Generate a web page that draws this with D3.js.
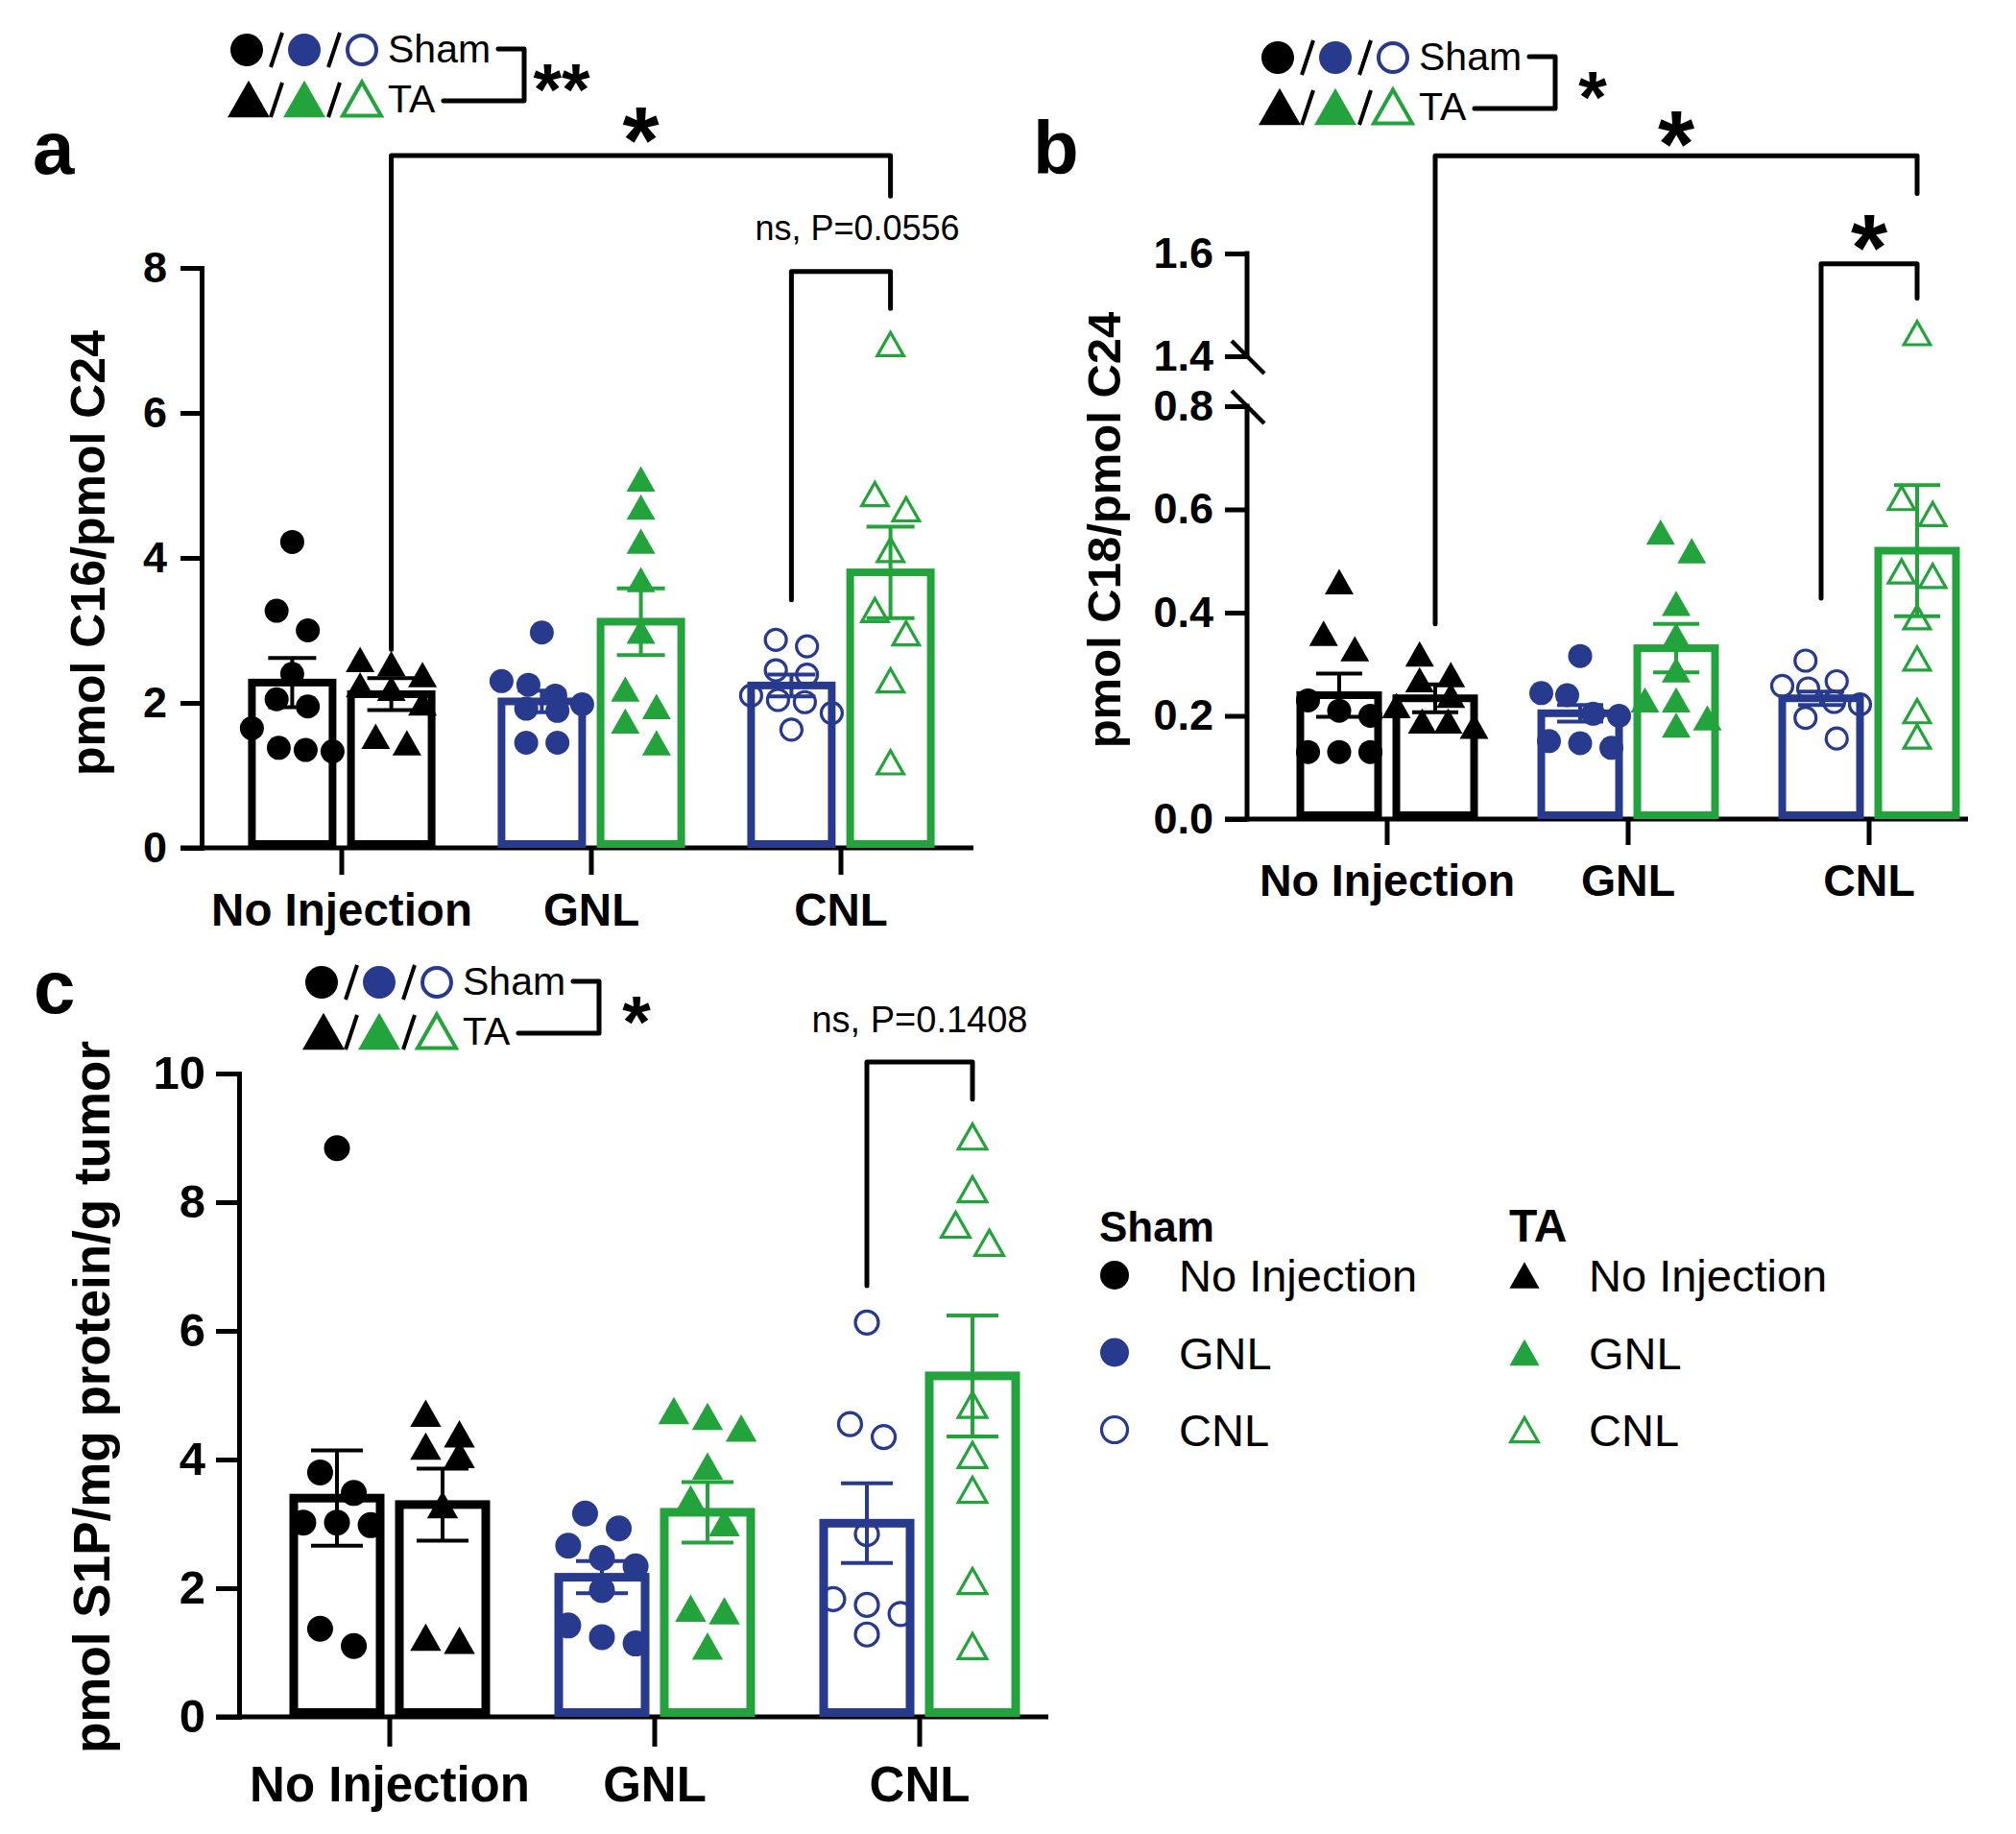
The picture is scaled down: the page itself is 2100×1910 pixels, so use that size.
<!DOCTYPE html>
<html><head><meta charset="utf-8">
<script src="https://cdn.jsdelivr.net/npm/d3@7"></script>
<style>
html,body{margin:0;padding:0;background:#fff;}
svg{display:block;}
text{font-family:"Liberation Sans", Arial, Helvetica, sans-serif;}
</style></head><body>
<svg id="chart" width="2100" height="1910"></svg>
<script>
// ---------------- DATA ----------------
const categories = ["No Injection", "GNL", "CNL"];
const treatments = ["Sham", "TA"];
// group order: NoInj-Sham, NoInj-TA, GNL-Sham, GNL-TA, CNL-Sham, CNL-TA

// Panel a : pmol C16/pmol C24
const aTicks = [0, 2, 4, 6, 8];
const aMeans = [2.28, 2.12, 2.02, 3.12, 2.24, 3.80];
const aSems  = [0.34, 0.22, 0.15, 0.46, 0.15, 0.63];
const aPoints = [
  [4.22, 3.27, 3.0, 2.4, 2.05, 1.95, 1.65, 1.38, 1.35, 1.33],
  [2.6, 2.54, 2.39, 2.25, 2.2, 2.0, 1.54, 1.45],
  [2.97, 2.3, 2.25, 2.1, 1.98, 1.92, 1.89, 1.45, 1.45],
  [5.09, 4.7, 4.23, 3.7, 2.99, 2.19, 1.95, 1.75, 1.45],
  [2.87, 2.78, 2.45, 2.39, 2.1, 2.04, 2.01, 1.86, 1.63],
  [6.95, 4.88, 4.67, 4.11, 3.28, 2.96, 2.31, 1.18]
];

// Panel b : pmol C18/pmol C24 (broken axis 0.8 -> 1.4)
const bTicks = [0, 0.2, 0.4, 0.6, 0.8, 1.4, 1.6];
const bTickLabels = ["0.0", "0.2", "0.4", "0.6", "0.8", "1.4", "1.6"];
const bMeans = [0.240, 0.234, 0.205, 0.331, 0.234, 0.520];
const bSems  = [0.042, 0.027, 0.016, 0.047, 0.013, 0.127];
const bPoints = [
  [0.46, 0.36, 0.33, 0.23, 0.21, 0.20, 0.13, 0.13, 0.13],
  [0.32, 0.28, 0.27, 0.24, 0.22, 0.19, 0.19, 0.18],
  [0.316, 0.244, 0.24, 0.204, 0.2, 0.151, 0.147, 0.138],
  [0.556, 0.52, 0.418, 0.356, 0.289, 0.231, 0.231, 0.196, 0.182],
  [0.307, 0.267, 0.258, 0.253, 0.227, 0.222, 0.196, 0.156],
  [1.445, 0.622, 0.591, 0.48, 0.471, 0.391, 0.311, 0.209, 0.16]
];
const bShamNoInjShapes = ["triangle", "triangle", "triangle", "circle", "circle", "circle", "circle", "circle", "circle"];

// Panel c : pmol S1P/mg protein/g tumor
const cTicks = [0, 2, 4, 6, 8, 10];
const cMeans = [3.40, 3.30, 2.17, 3.18, 3.01, 5.30];
const cSems  = [0.74, 0.56, 0.25, 0.47, 0.62, 0.94];
const cPoints = [
  [8.84, 3.8, 3.48, 3.02, 3.02, 2.98, 1.37, 1.1],
  [4.72, 4.4, 4.21, 4.08, 3.3, 1.24, 1.19],
  [3.16, 2.93, 2.66, 2.47, 2.34, 1.97, 1.42, 1.24, 1.14],
  [4.76, 4.67, 4.49, 3.9, 3.39, 3.02, 1.69, 1.65, 1.1],
  [6.13, 4.55, 4.35, 2.84, 1.83, 1.74, 1.6, 1.28],
  [9.02, 8.2, 7.65, 7.37, 4.85, 4.07, 3.53, 2.11, 1.1]
];

// significance annotations: [fromGroup, toGroup, bracketY, leftLegBottom, rightLegBottom, label, labelY]
const aSig = [
  [1, 5, 9.55, 2.74, 8.99, "*", 9.98],
  [4, 5, 7.95, 3.42, 7.44, "ns, P=0.0556", 8.38]
];
const bSig = [
  [1, 5, 1.79, 0.378, 1.717, "*", 1.845],
  [4, 5, 1.58, 0.428, 1.513, "*", 1.642]
];
const cSig = [
  [4, 5, 10.18, 6.7, 9.6, "ns, P=0.1408", 10.64]
];
const legendStars = ["**", "*", "*"];

// ---------------- STYLE ----------------
const BLUE = "#283a8e", GREEN = "#22a33b", BLACK = "#000";
const groupStyles = [
  {color: BLACK, shape: "circle", fill: true},
  {color: BLACK, shape: "triangle", fill: true},
  {color: BLUE, shape: "circle", fill: true},
  {color: GREEN, shape: "triangle", fill: true},
  {color: BLUE, shape: "circle", fill: false},
  {color: GREEN, shape: "triangle", fill: false}
];

const svg = d3.select("#chart");

function triPath(s) {
  const h = s * 0.88;
  return `M0,${-h/2}L${s/2},${h/2}L${-s/2},${h/2}Z`;
}

function drawMarker(g, shape, color, fill, x, y, size) {
  if (shape === "circle") {
    const r = fill ? size / 2 : size / 2 - 1.5;
    g.append("circle").attr("cx", x).attr("cy", y).attr("r", r)
      .attr("fill", fill ? color : "none").attr("stroke", fill ? "none" : color)
      .attr("stroke-width", fill ? 0 : 3.2);
  } else {
    const s = fill ? size * 1.2 : size * 1.1;
    g.append("path").attr("d", triPath(s)).attr("transform", `translate(${x},${y})`)
      .attr("fill", fill ? color : "none").attr("stroke", fill ? "none" : color)
      .attr("stroke-width", fill ? 0 : 3.2).attr("stroke-linejoin", "miter");
  }
}

// row-based scatter (Prism-like): points whose pixel positions are close share a row
// and are spread evenly across it; returns x offsets in input order
function scatterOffsets(ys, rowH, spacing, maxSpan) {
  const idx = ys.map((y, i) => i).sort((a, b) => ys[a] - ys[b]);
  const out = new Array(ys.length).fill(0);
  let k = 0;
  while (k < idx.length) {
    const row = [idx[k]];
    let j = k + 1;
    while (j < idx.length && ys[idx[j]] - ys[idx[k]] < rowH) { row.push(idx[j]); j++; }
    const n = row.length;
    const sp = n > 1 ? Math.min(spacing, maxSpan / (n - 1)) : 0;
    row.forEach((ii, r) => { out[ii] = (r - (n - 1) / 2) * sp; });
    k = j;
  }
  return out;
}

function drawPanel(p) {
  const g = svg.append("g");
  const x = d3.scaleBand().domain(categories).range(p.xRange);
  const sub = d3.scalePoint().domain(treatments).range([-p.off, p.off]);
  const y = p.y;
  const gx = i => x(categories[Math.floor(i / 2)]) + x.bandwidth() / 2 + sub(treatments[i % 2]);
  const zero = y(0);

  // y axis
  const yAxis = d3.axisLeft(y).tickValues(p.ticks).tickSize(p.tickLen).tickSizeOuter(0)
    .tickPadding(p.tickPad).tickFormat(p.fmt);
  const ya = g.append("g").attr("transform", `translate(${p.axisX},0)`).call(yAxis);
  ya.selectAll(".tick line").attr("stroke", BLACK).attr("stroke-width", 5);
  ya.select(".domain").attr("stroke", BLACK).attr("stroke-width", 5).attr("stroke-linecap", "square");
  ya.selectAll(".tick text").attr("font-size", p.tickFs).attr("font-weight", "bold")
    .attr("font-family", "'Liberation Sans', Arial, sans-serif").attr("fill", BLACK);
  if (p.broken) {
    ya.select(".domain").remove();
    const seg = (a, b) => g.append("line").attr("x1", p.axisX).attr("x2", p.axisX)
      .attr("y1", y(a)).attr("y2", y(b)).attr("stroke", BLACK).attr("stroke-width", 5).attr("stroke-linecap", "square");
    seg(0, 0.8); seg(1.4, 1.6);
    [1.4, 0.8].forEach(v => {
      g.append("line").attr("x1", p.axisX - 16).attr("y1", y(v) - 16)
        .attr("x2", p.axisX + 18).attr("y2", y(v) + 18)
        .attr("stroke", BLACK).attr("stroke-width", 4.5);
    });
  }

  // x axis
  g.append("line").attr("x1", p.axisX - p.tickLen).attr("x2", p.xEnd)
    .attr("y1", zero).attr("y2", zero).attr("stroke", BLACK).attr("stroke-width", 5);
  const xAxis = d3.axisBottom(x).tickSize(p.xTickLen).tickSizeOuter(0).tickPadding(0);
  const xa = g.append("g").attr("transform", `translate(0,${zero})`).call(xAxis);
  xa.select(".domain").remove();
  xa.selectAll(".tick line").attr("stroke", BLACK).attr("stroke-width", 5);
  xa.selectAll(".tick text").attr("font-size", p.catFs).attr("font-weight", "bold")
    .attr("dy", null).attr("y", p.catY - zero).attr("fill", BLACK)
    .attr("font-family", "'Liberation Sans', Arial, sans-serif");

  // bars
  p.means.forEach((m, i) => {
    const st = groupStyles[i];
    const hw = p.barW / 2;
    g.append("rect").attr("x", gx(i) - hw).attr("y", y(m)).attr("width", p.barW)
      .attr("height", zero - y(m) - p.barStroke / 2)
      .attr("fill", "none").attr("stroke", st.color).attr("stroke-width", p.barStroke);
  });

  // points
  p.points.forEach((vals, i) => {
    const st = groupStyles[i];
    const offs = scatterOffsets(vals.map(v => y(v)), p.markSize * 1.0, p.markSize * 1.3, p.barW * 1.0);
    vals.forEach((v, k) => {
      let shape = st.shape;
      if (i === 0 && p.firstShapes) shape = p.firstShapes[k];
      drawMarker(g, shape, st.color, st.fill, gx(i) + offs[k], y(v), p.markSize);
    });
  });

  // error bars
  p.means.forEach((m, i) => {
    const st = groupStyles[i];
    const s = p.sems[i];
    const c = gx(i);
    g.append("line").attr("x1", c).attr("x2", c).attr("y1", y(m - s)).attr("y2", y(m + s))
      .attr("stroke", st.color).attr("stroke-width", 4);
    [m - s, m + s].forEach(v => {
      g.append("line").attr("x1", c - p.capW / 2).attr("x2", c + p.capW / 2)
        .attr("y1", y(v)).attr("y2", y(v)).attr("stroke", st.color).attr("stroke-width", 4);
    });
  });

  // significance brackets
  p.sig.forEach(([a, b, by, la, lb, label, ly]) => {
    const x1 = gx(a), x2 = gx(b);
    g.append("path").attr("d", `M${x1},${y(la)}V${y(by)}H${x2}V${y(lb)}`)
      .attr("fill", "none").attr("stroke", BLACK).attr("stroke-width", 5)
      .attr("stroke-linecap", "round").attr("stroke-linejoin", "round");
    if (label === "*") {
      g.append("text").attr("x", (x1 + x2) / 2).attr("y", y(ly) + 0.52 * p.starFs)
        .attr("text-anchor", "middle").attr("font-size", p.starFs).attr("font-weight", "bold")
        .text(label);
    } else {
      g.append("text").attr("x", (x1 + x2) / 2 + p.nsDx).attr("y", y(ly))
        .attr("text-anchor", "middle").attr("font-size", p.nsFs).text(label);
    }
  });

  // y label
  g.append("text").attr("transform", `translate(${p.ylabX},${p.ylabY}) rotate(-90)`)
    .attr("text-anchor", "middle").attr("font-size", p.ylabFs).attr("font-weight", "bold")
    .text(p.ylab);

  // panel letter
  g.append("text").attr("x", p.letterX).attr("y", p.letterY).attr("font-size", 78)
    .attr("font-weight", "bold").text(p.letter);

  // mini legend
  drawMiniLegend(p.legX, p.legY, p.star);
}

function drawMiniLegend(x0, y0, star) {
  const g = svg.append("g").attr("transform", `translate(${x0},${y0})`);
  const cols = [0, 60, 120];
  const topStyles = [[BLACK, true], [BLUE, true], [BLUE, false]];
  const botStyles = [[BLACK, true], [GREEN, true], [GREEN, false]];
  cols.forEach((cx, i) => {
    const [c, f] = topStyles[i];
    g.append("circle").attr("cx", cx).attr("cy", 0).attr("r", f ? 17 : 15)
      .attr("fill", f ? c : "none").attr("stroke", f ? "none" : c).attr("stroke-width", 4);
    const [c2, f2] = botStyles[i];
    g.append("path").attr("d", triPath(f2 ? 44 : 40)).attr("transform", `translate(${cx + (i === 0 ? 2 : 0)},51)`)
      .attr("fill", f2 ? c2 : "none").attr("stroke", f2 ? "none" : c2).attr("stroke-width", 4);
  });
  [31, 91].forEach(sx => {
    g.append("line").attr("x1", sx - 6).attr("y1", 18).attr("x2", sx + 6).attr("y2", -18)
      .attr("stroke", BLACK).attr("stroke-width", 4);
    g.append("line").attr("x1", sx - 6).attr("y1", 70).attr("x2", sx + 6).attr("y2", 34)
      .attr("stroke", BLACK).attr("stroke-width", 4);
  });
  g.append("text").attr("x", 147).attr("y", 13).attr("font-size", 41).text("Sham");
  g.append("text").attr("x", 147).attr("y", 65).attr("font-size", 41).text("TA");
  g.append("path").attr("d", "M262,-1H289V53H205")
    .attr("fill", "none").attr("stroke", BLACK).attr("stroke-width", 5)
    .attr("stroke-linejoin", "round").attr("stroke-linecap", "round");
  g.append("text").attr("x", 328).attr("y", 27 + 0.52 * 76).attr("text-anchor", "middle")
    .attr("font-size", 76).attr("font-weight", "bold").text(star);
}

// ---------------- PANELS ----------------
drawPanel({
  letter: "a", letterX: 34, letterY: 181,
  y: d3.scaleLinear().domain([0, 8]).range([883, 279]),
  ticks: aTicks, fmt: d3.format("d"),
  xRange: [226, 1006], off: 51.6, axisX: 210, xEnd: 1014,
  tickLen: 22, tickPad: 14, tickFs: 45, xTickLen: 28,
  catFs: 47.5, catY: 964,
  barW: 84, barStroke: 8, capW: 50, markSize: 25,
  means: aMeans, sems: aSems, points: aPoints, sig: aSig,
  starFs: 98, nsFs: 36, nsDx: 17,
  ylab: "pmol C16/pmol C24", ylabX: 109, ylabY: 576, ylabFs: 50,
  legX: 257, legY: 52, star: legendStars[0]
});

drawPanel({
  letter: "b", letterX: 1076, letterY: 181,
  y: d3.scaleLinear().domain([0, 0.8, 1.4, 1.6]).range([853, 423, 371, 264]),
  ticks: bTicks, fmt: (d, i) => bTickLabels[i], broken: true,
  xRange: [1319.5, 2072.5], off: 50, axisX: 1299, xEnd: 2050,
  tickLen: 23, tickPad: 12, tickFs: 45, xTickLen: 27,
  catFs: 46.5, catY: 933,
  barW: 81, barStroke: 8, capW: 48, markSize: 25,
  means: bMeans, sems: bSems, points: bPoints, sig: bSig, firstShapes: bShamNoInjShapes,
  starFs: 98, nsFs: 36, nsDx: 0,
  ylab: "pmol C18/pmol C24", ylabX: 1167, ylabY: 552, ylabFs: 49,
  legX: 1331, legY: 60, star: legendStars[1]
});

drawPanel({
  letter: "c", letterX: 35, letterY: 1055,
  y: d3.scaleLinear().domain([0, 10]).range([1788, 1118]),
  ticks: cTicks, fmt: d3.format("d"),
  xRange: [268, 1096], off: 55, axisX: 249, xEnd: 1092,
  tickLen: 24, tickPad: 11, tickFs: 49, xTickLen: 31,
  catFs: 51, catY: 1876,
  barW: 90, barStroke: 9, capW: 54, markSize: 27,
  means: cMeans, sems: cSems, points: cPoints, sig: cSig,
  starFs: 98, nsFs: 38, nsDx: 0,
  ylab: "pmol S1P/mg protein/g tumor", ylabX: 114, ylabY: 1455, ylabFs: 53,
  legX: 335, legY: 1023, star: legendStars[2]
});

// ---------------- RIGHT LEGEND ----------------
const legendGroups = ["Sham", "TA"];
const legendItems = ["No Injection", "GNL", "CNL"];
(function () {
  const g = svg.append("g");
  const colX = [1145, 1572];
  legendGroups.forEach((name, gi) => {
    g.append("text").attr("x", colX[gi]).attr("y", 1293).attr("font-size", gi === 0 ? 44 : 48)
      .attr("font-weight", "bold").text(name);
    legendItems.forEach((it, ii) => {
      const st = groupStyles[ii * 2 + gi];
      const cy = 1328 + ii * 80.5;
      drawMarker(g, st.shape, st.color, st.fill, colX[gi] + 16, cy, gi === 0 ? 30 : 26);
      g.append("text").attr("x", colX[gi] + 83).attr("y", cy + 17).attr("font-size", 47).text(it);
    });
  });
})();
</script>
</body></html>
